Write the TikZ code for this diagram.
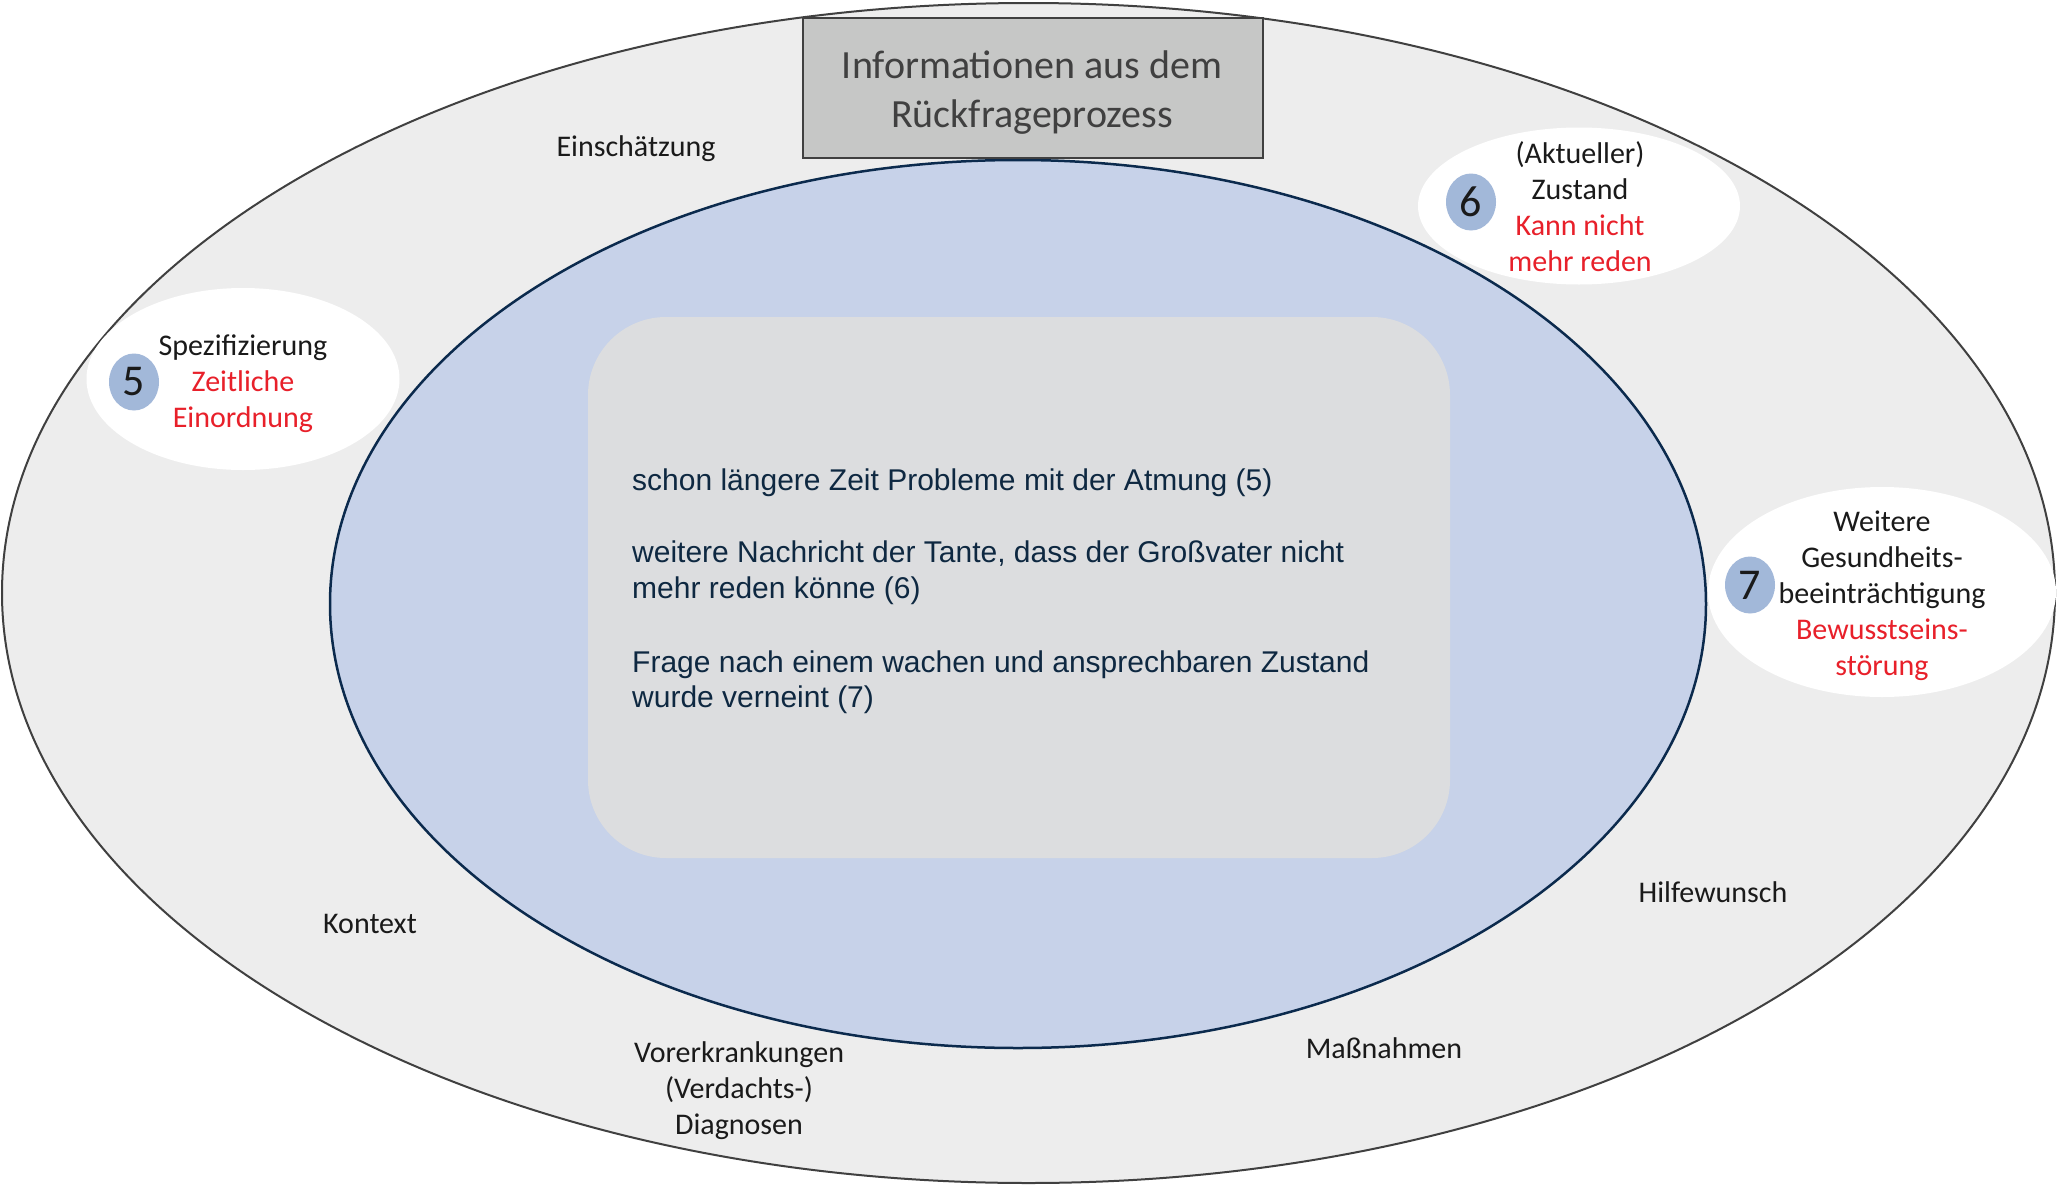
\documentclass[tikz,border=0pt]{standalone}
\usepackage{fontspec}
\setmainfont{Carlito}
\newfontfamily\arialf{Liberation Sans}
\usetikzlibrary{shapes.geometric}
\definecolor{outerfill}{HTML}{EDEDED}
\definecolor{outerline}{HTML}{404040}
\definecolor{innerfill}{HTML}{C7D2E9}
\definecolor{innerline}{HTML}{0B2A4D}
\definecolor{panelfill}{HTML}{DCDDDF}
\definecolor{titlefill}{HTML}{C6C7C6}
\definecolor{titletext}{HTML}{404040}
\definecolor{numfill}{HTML}{A2B8D9}
\definecolor{redtext}{HTML}{E8202A}
\definecolor{bodytext}{HTML}{0E2841}
\definecolor{labeltext}{HTML}{1A1A1A}
\tikzset{
  bigell/.style={ellipse, inner sep=0pt, outer sep=0pt},
  bubble/.style={ellipse, fill=white, draw=none, inner sep=0pt},
  numcirc/.style={ellipse, fill=numfill, draw=none, inner sep=0pt, minimum width=50pt, minimum height=57pt,
    font=\fontsize{44}{44}\selectfont, text=labeltext},
  lbl/.style={font=\fontsize{30}{36}\selectfont, text=labeltext, align=center, inner sep=0pt},
  bodyline/.style={font=\arialf\fontsize{30}{36}\selectfont, text=bodytext, anchor=base west, inner sep=0pt},
}
\begin{document}
\begin{tikzpicture}[x=1pt,y=-1pt]
\useasboundingbox (0,0) rectangle (2057,1186);
% outer ellipse
\node[bigell, fill=outerfill, draw=outerline, line width=2pt, minimum width=2053pt, minimum height=1180pt] (outer) at (1028.5,593) {};
% inner ellipse
\node[bigell, fill=innerfill, draw=innerline, line width=2.5pt, minimum width=1376pt, minimum height=888pt] (inner) at (1018,604) {};
% gray panel
\node[fill=panelfill, draw=none, rounded corners=78pt, minimum width=862pt, minimum height=541pt, inner sep=0pt] (panel) at (1019,587.5) {};
% title box
\node[fill=titlefill, draw=outerline, line width=2pt, minimum width=460pt, minimum height=140pt, inner sep=0pt] (titlebox) at (1032.5,88) {};
\node[font=\fontsize{40}{49}\selectfont, text=titletext, align=center, inner sep=0pt] (title) at (1032,93) {Informationen aus dem\\Rückfrageprozess};
% body text
\node[bodyline] (b1) at (632,490) {schon längere Zeit Probleme mit der Atmung (5)};
\node[bodyline] (b2) at (632,562) {weitere Nachricht der Tante, dass der Großvater nicht};
\node[bodyline] (b3) at (632,598) {mehr reden könne (6)};
\node[bodyline] (b4) at (632,672) {Frage nach einem wachen und ansprechbaren Zustand};
\node[bodyline] (b5) at (632,707) {wurde verneint (7)};
% bubble 5
\node[bubble, minimum width=313pt, minimum height=182pt] (bub5) at (243,379) {};
\node[numcirc] (n5) at (134,382) {5};
\node[lbl] (t5) at (243,384) {Spezifizierung\\\textcolor{redtext}{Zeitliche}\\\textcolor{redtext}{Einordnung}};
% bubble 6
\node[bubble, minimum width=322pt, minimum height=157pt] (bub6) at (1579,206) {};
\node[numcirc] (n6) at (1471,202) {6};
\node[lbl] (t6) at (1580,207) {(Aktueller)\\Zustand\\\textcolor{redtext}{Kann nicht}\\\textcolor{redtext}{mehr reden}};
% bubble 7
\node[bubble, minimum width=348pt, minimum height=210pt] (bub7) at (1882,592) {};
\node[numcirc] (n7) at (1750,585) {7};
\node[lbl] (t7) at (1882,596) {Weitere\\Gesundheits-\\beeinträchtigung\\\textcolor{redtext}{Bewusstseins-}\\\textcolor{redtext}{störung}};
% outer labels
\node[lbl] (einsch) at (636,149) {Einschätzung};
\node[lbl] (kontext) at (370,924) {Kontext};
\node[lbl] (hilfe) at (1713,892) {Hilfewunsch};
\node[lbl] (mass) at (1384,1048) {Maßnahmen};
\node[lbl] (vorerk) at (739,1091) {Vorerkrankungen\\(Verdachts-)\\Diagnosen};
\end{tikzpicture}
\end{document}
